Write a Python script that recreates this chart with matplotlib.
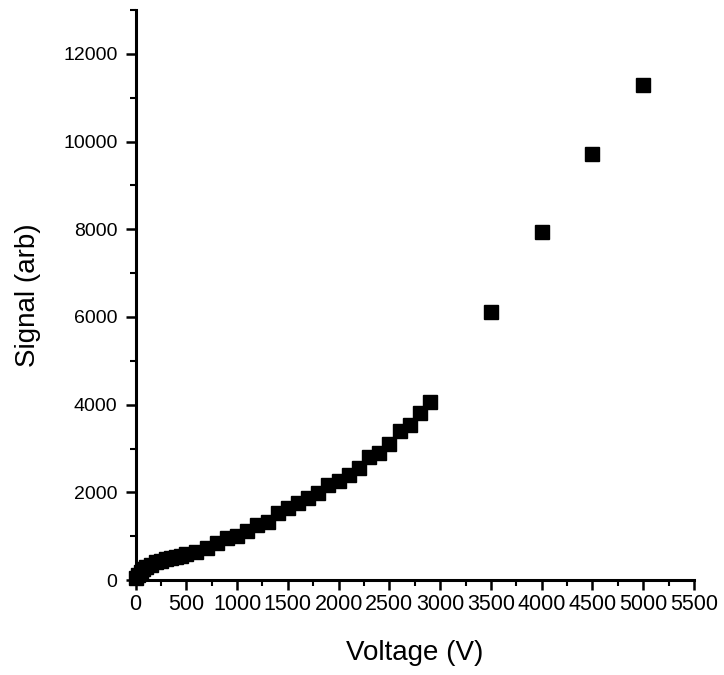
import matplotlib
matplotlib.use("Agg")
import matplotlib.pyplot as plt
from matplotlib.ticker import MultipleLocator

voltage = [0, 25, 50, 75, 100, 150, 200, 250, 300, 350, 400, 450, 500,
           600, 700, 800, 900, 1000, 1100, 1200, 1300, 1400, 1500, 1600,
           1700, 1800, 1900, 2000, 2100, 2200, 2300, 2400, 2500, 2600,
           2700, 2800, 2900, 3500, 4000, 4500, 5000]
signal = [50, 120, 190, 250, 290, 350, 400, 440, 470, 500, 530, 555, 585,
          650, 720, 840, 950, 1000, 1120, 1250, 1330, 1520, 1640, 1750,
          1870, 1980, 2160, 2250, 2390, 2560, 2800, 2900, 3100, 3400,
          3530, 3800, 4060, 6110, 7940, 9720, 11290]

x_ticks = list(range(0, 5501, 500))
y_ticks = list(range(0, 12001, 2000))

plt.rcParams['font.family'] = ['Liberation Sans', 'DejaVu Sans']
fig = plt.figure(figsize=(7.24, 6.75), dpi=100)
ax = fig.add_axes([0.1872, 0.1407, 0.7713, 0.8443])

ax.plot(voltage, signal, linestyle='none', marker='s', markersize=9.5,
        color='black', clip_on=False)

ax.set_xlim(0, 5500)
ax.set_ylim(0, 13000)
ax.set_xticks(x_ticks)
ax.set_yticks(y_ticks)
ax.xaxis.set_minor_locator(MultipleLocator(250))
ax.yaxis.set_minor_locator(MultipleLocator(1000))

for s in ['top', 'right']:
    ax.spines[s].set_visible(False)
for s in ['left', 'bottom']:
    ax.spines[s].set_linewidth(2.2)

ax.tick_params(which='major', direction='out', length=7, width=1.8, pad=3)
ax.tick_params(which='minor', direction='out', length=4.5, width=1.5)
ax.tick_params(axis='x', which='major', labelsize=15.5, pad=3)
ax.tick_params(axis='y', which='major', labelsize=14, pad=6)

ax.set_xlabel('Voltage (V)', fontsize=20, labelpad=18)
ax.set_ylabel('Signal (arb)', fontsize=20, labelpad=16)

fig.savefig('out.png', dpi=100)
